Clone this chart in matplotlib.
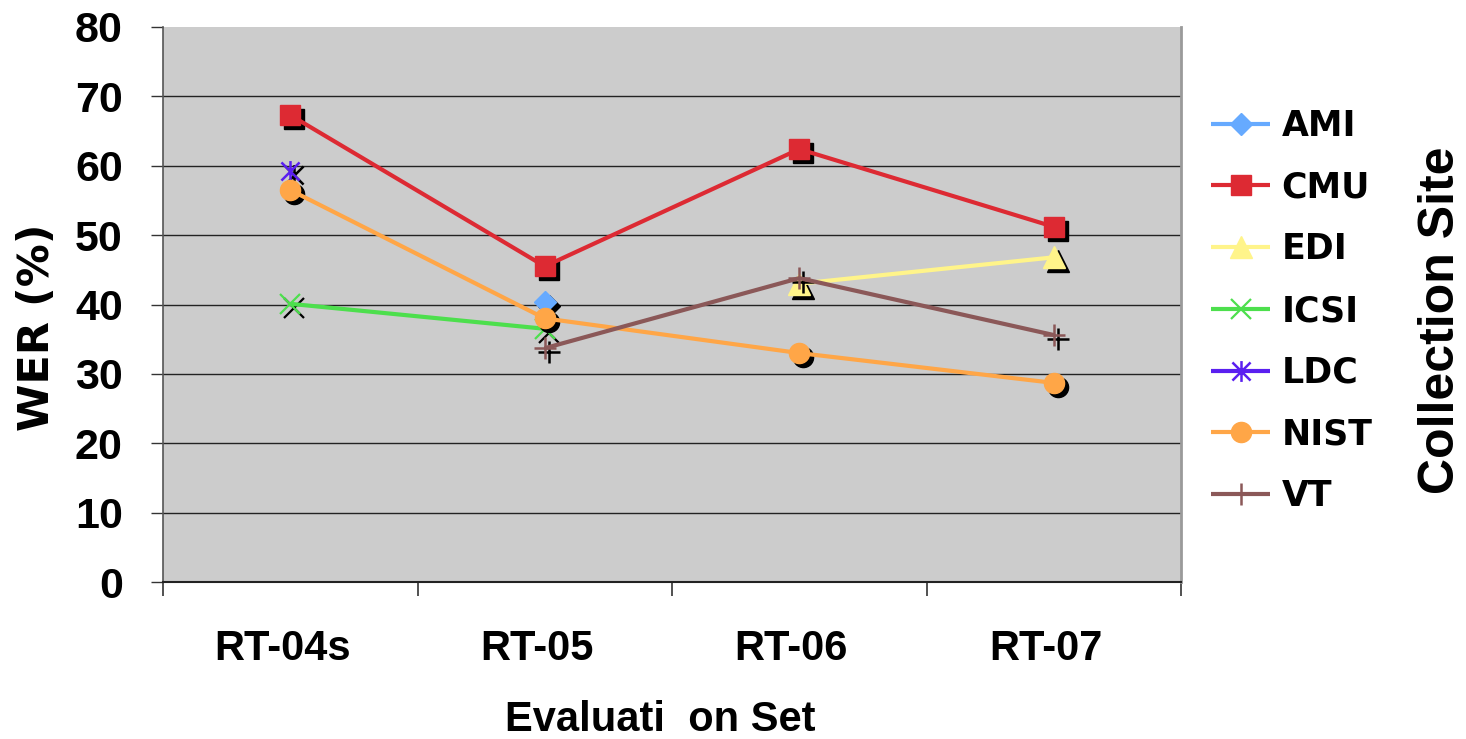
import numpy as np
import matplotlib
matplotlib.use("Agg")
import matplotlib.pyplot as plt
from matplotlib.path import Path
from matplotlib.transforms import offset_copy, ScaledTranslation

# --- data -------------------------------------------------------------
eval_sets = ["RT-04s", "RT-05", "RT-06", "RT-07"]
sites = ["AMI", "CMU", "EDI", "ICSI", "LDC", "NIST", "VT"]

ami = [np.nan, 40.3, np.nan, np.nan]
cmu = [67.3, 45.5, 62.4, 51.2]
edi = [np.nan, np.nan, 43.0, 46.8]
icsi = [40.1, 36.5, np.nan, np.nan]
ldc = [59.2, np.nan, np.nan, np.nan]
nist = [56.5, 38.0, 33.0, 28.7]
vt = [np.nan, 33.7, 43.8, 35.6]

y_ticks = [0, 10, 20, 30, 40, 50, 60, 70, 80]

# --- styling ----------------------------------------------------------
# six-armed asterisk marker built from line segments
asterisk = Path(
    [(-1, -1), (1, 1), (-1, 1), (1, -1), (0, -1.15), (0, 1.15)],
    [Path.MOVETO, Path.LINETO, Path.MOVETO, Path.LINETO, Path.MOVETO, Path.LINETO],
)

styles = {
    "AMI": dict(color="#66aaff", marker="D", ms=11.5),
    "CMU": dict(color="#dd2a33", marker="s", ms=14.5),
    "EDI": dict(color="#fff48a", marker="^", ms=15.5),
    "ICSI": dict(color="#4ddf4d", marker="x", ms=14, mew=1.6),
    "LDC": dict(color="#5a1ff0", marker=asterisk, ms=15, mew=1.8),
    "NIST": dict(color="#ffa647", marker="o", ms=14.5),
    "VT": dict(color="#8b5858", marker="+", ms=16, mew=1.8),
}
series = [ami, cmu, edi, icsi, ldc, nist, vt]

AXFONT = "Liberation Sans"

W, H = 1466, 739
fig = plt.figure(figsize=(W / 100, H / 100), dpi=100)
L, R, B, T = 163, 1181, 582, 27
ax = fig.add_axes([L / W, 1 - B / H, (R - L) / W, (B - T) / H])
ax.set_facecolor("#cccccc")

x = np.arange(len(eval_sets))
ax.set_xlim(-0.5, len(eval_sets) - 0.5)
ax.set_ylim(0, 80)

z = 3
for name, vals in zip(sites, series):
    st = styles[name]
    vals = np.asarray(vals, dtype=float)
    mk = dict(marker=st["marker"], markersize=st["ms"], mew=st.get("mew", 1.0))
    # drop shadow under each marker
    shadow_tr = offset_copy(ax.transData, fig=fig, x=4, y=-4, units="dots")
    ax.plot(x, vals, linestyle="none", color="black", mfc="black", mec="black",
            transform=shadow_tr, zorder=z, **mk)
    mask = ~np.isnan(vals)
    ax.plot(x[mask], vals[mask], color=st["color"], lw=3.0, mfc=st["color"],
            mec=st["color"], solid_capstyle="butt", label=name, zorder=z + 1, **mk)
    z += 2

# axes frame
ax.spines["top"].set_visible(False)
ax.spines["right"].set_color("#9a9a9a")
ax.spines["right"].set_linewidth(2)
ax.spines["left"].set_color("#555555")
ax.spines["left"].set_linewidth(1.2)
ax.spines["bottom"].set_color("#222222")
ax.spines["bottom"].set_linewidth(1.5)

ax.set_yticks(y_ticks)
ax.yaxis.grid(True, color="#222222", lw=1.0)
ax.set_axisbelow(True)
ax.get_ygridlines()[-1].set_visible(False)
ax.tick_params(axis="y", length=9, width=1.0, color="#333333", pad=20,
               labelsize=31)
for lbl in ax.get_yticklabels():
    lbl.set_fontfamily(AXFONT)
    lbl.set_fontweight("bold")

ax.set_xticks(x)
ax.set_xticklabels(eval_sets)
ax.set_xticks(np.arange(len(eval_sets) + 1) - 0.5, minor=True)
ax.tick_params(axis="x", which="major", length=0, pad=34, labelsize=30)
ax.tick_params(axis="x", which="minor", length=10, width=1.2, color="#333333")
shift = ScaledTranslation(-8 / 100, 0, fig.dpi_scale_trans)
for lbl in ax.get_xticklabels():
    lbl.set_fontfamily(AXFONT)
    lbl.set_fontweight("bold")
    lbl.set_transform(lbl.get_transform() + shift)

fig.text(660 / W, 1 - 720 / H, "Evaluati  on Set", ha="center", va="center",
         fontsize=30, fontweight="bold", family=AXFONT)
fig.text(37 / W, 1 - 327 / H, "WER (%)", ha="center", va="center", rotation=90,
         fontsize=31, fontweight="bold", family="DejaVu Sans")
fig.text(1441 / W, 1 - 320 / H, "Collection Site", ha="center", va="center",
         rotation=90, fontsize=36, fontweight="bold", family="Liberation Sans")

leg = ax.legend(loc="center left", bbox_to_anchor=(1211 / W, 1 - 311 / H),
                bbox_transform=fig.transFigure, frameon=False, borderpad=0,
                borderaxespad=0, handlelength=1.71, handletextpad=0.32,
                labelspacing=0.80, prop=dict(family="DejaVu Sans", weight="bold",
                                             size=25))

fig.savefig("out.png", dpi=100)
